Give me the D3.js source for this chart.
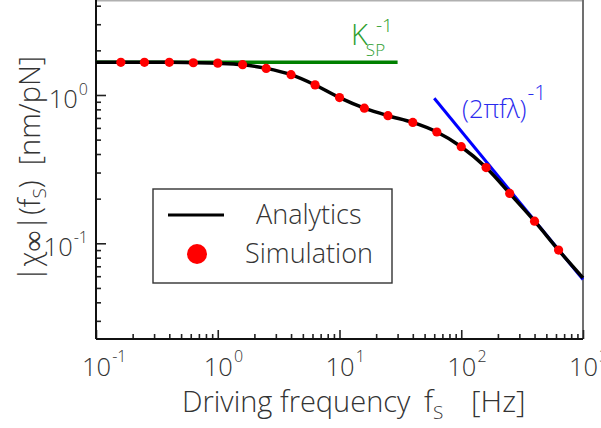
<!DOCTYPE html>
<head>
    <meta charset='utf-8'>
    <style>
        body {
            margin: 0;
            background: #fff;
        }
        svg text {
            font-family: 'Open Sans', 'Lato', sans-serif;
            font-weight: 300;
            fill: #333;
        }
    </style>
</head>

<body>
<div id='vis'></div>
<script src='https://cdn.jsdelivr.net/npm/d3@7'></script>
<script>
  // simulation points (driving frequency in Hz, |chi| in nm/pN)
  const simFreq = [0.16, 0.25, 0.4, 0.63, 1.0, 1.6, 2.5, 4.0, 6.3, 10, 16, 25, 40, 63, 100, 160, 250, 400, 630]
  const simChi = [1.66, 1.66, 1.66, 1.65, 1.64, 1.60, 1.51, 1.37, 1.17, 0.96, 0.815, 0.725, 0.653, 0.563, 0.448, 0.324, 0.217, 0.141, 0.090]

  // analytic curve
  const anaFreq = [0.1, 0.16, 0.25, 0.4, 0.63, 1.0, 1.6, 2.5, 4.0, 6.3, 10, 16, 25, 40, 63, 100, 160, 250, 400, 630, 1000]
  const anaChi = [1.662, 1.662, 1.661, 1.66, 1.652, 1.637, 1.60, 1.512, 1.37, 1.168, 0.96, 0.815, 0.725, 0.653, 0.563, 0.448, 0.324, 0.217, 0.141, 0.090, 0.0584]

  // asymptotes
  const kspFreq = [0.1, 30]
  const kspChi = [1.66, 1.66]
  const dragFreq = [60, 1000]
  const dragChi = [0.95, 0.057]

  const xMajor = [0.1, 1, 10, 100, 1000]
  const xExp = ['-1', '0', '1', '2', '3']
  const yMajor = [0.1, 1]
  const yExp = ['-1', '0']

  const W = 601, H = 428
  const plot = {left: 96, right: 583, top: 0, bottom: 339}

  const x = d3.scaleLog().domain([0.1, 1000]).range([plot.left, plot.right])
  const y = d3.scaleLog().domain([0.02263, 4.37]).range([plot.bottom, plot.top])

  const svg = d3.select('#vis')
    .append('svg')
    .attr('width', W)
    .attr('height', H)

  // minor ticks: 2..9 of each decade inside domain
  const minorOf = (s) => {
    const [a, b] = s.domain()
    const out = []
    for (let e = Math.floor(Math.log10(a)); e <= Math.ceil(Math.log10(b)); e++) {
      for (let m = 2; m <= 9; m++) {
        const v = m * Math.pow(10, e)
        if (v >= a && v <= b) out.push(v)
      }
    }
    return out
  }

  // frame: top and right in gray
  svg.append('line')
    .attr('x1', plot.left).attr('x2', plot.right)
    .attr('y1', 0.5).attr('y2', 0.5)
    .attr('stroke', '#b0b0b0').attr('stroke-width', 2)
  svg.append('line')
    .attr('x1', plot.right).attr('x2', plot.right)
    .attr('y1', 0).attr('y2', plot.bottom)
    .attr('stroke', '#707070').attr('stroke-width', 2)

  // axes with inward ticks
  const axisStyle = g => {
    g.select('.domain').remove()
    g.selectAll('line').attr('stroke', '#222').attr('stroke-width', 1.6)
  }
  svg.append('g')
    .attr('transform', `translate(0,${plot.bottom})`)
    .call(d3.axisBottom(x).tickValues(minorOf(x)).tickSize(-5).tickFormat(''))
    .call(axisStyle)
  svg.append('g')
    .attr('transform', `translate(0,${plot.bottom})`)
    .call(d3.axisBottom(x).tickValues(xMajor).tickSize(-9).tickFormat(''))
    .call(axisStyle)
  svg.append('g')
    .attr('transform', `translate(${plot.left},0)`)
    .call(d3.axisLeft(y).tickValues(minorOf(y)).tickSize(-5).tickFormat(''))
    .call(axisStyle)
  svg.append('g')
    .attr('transform', `translate(${plot.left},0)`)
    .call(d3.axisLeft(y).tickValues(yMajor).tickSize(-10).tickFormat(''))
    .call(axisStyle)

  svg.append('line')
    .attr('x1', plot.left).attr('x2', plot.right)
    .attr('y1', plot.bottom).attr('y2', plot.bottom)
    .attr('stroke', '#111').attr('stroke-width', 2)
  svg.append('line')
    .attr('x1', plot.left).attr('x2', plot.left)
    .attr('y1', 0).attr('y2', plot.bottom)
    .attr('stroke', '#111').attr('stroke-width', 2)

  // tick labels
  xMajor.forEach((v, i) => {
    const t = svg.append('text')
      .attr('x', x(v) - 14)
      .attr('y', 376)
      .style('font-size', '25.5px')
    t.append('tspan').text('10')
    t.append('tspan').attr('dy', -14).attr('dx', 1).style('font-size', '16px').text(xExp[i])
  })
  yMajor.forEach((v, i) => {
    const t = svg.append('text')
      .attr('x', 88)
      .attr('y', y(v) + 13)
      .attr('text-anchor', 'end')
      .style('font-size', '25.5px')
    t.append('tspan').text('10')
    t.append('tspan').attr('dy', -13).attr('dx', 1).style('font-size', '16px').text(yExp[i])
  })

  // axis titles
  const xt = svg.append('text')
    .attr('y', 412)
    .style('font-size', '29px')
  xt.append('tspan').attr('x', 182).text('Driving frequency')
  xt.append('tspan').attr('x', 424).style('font-size', '30px').text('f')
  xt.append('tspan').attr('dy', 7).style('font-size', '19px').text('S')
  xt.append('tspan').attr('x', 471).attr('dy', -7).style('font-size', '30px').text('[Hz]')

  const yt = svg.append('text')
    .attr('transform', 'translate(40,169) rotate(-90)')
    .attr('text-anchor', 'middle')
    .style('font-size', '29px')
    .attr('xml:space', 'preserve')
  yt.append('tspan').text('|\u03c7')
  yt.append('tspan').attr('dy', 3).style('font-family', 'DejaVu Sans').style('font-weight', 200).style('font-size', '29px').text('\u221e')
  yt.append('tspan').attr('dy', -3).text('|(f')
  yt.append('tspan').attr('dy', 6).style('font-size', '19px').text('S')
  yt.append('tspan').attr('dy', -6).text(')  [nm/pN]')

  const line = d3.line()
    .x(d => x(d[0]))
    .y(d => y(d[1]))

  // K_SP^-1 asymptote
  svg.append('path')
    .datum(d3.zip(kspFreq, kspChi))
    .attr('d', line)
    .attr('fill', 'none')
    .attr('stroke', '#008000')
    .attr('stroke-width', 3.5)

  // (2 pi f lambda)^-1 asymptote
  svg.append('path')
    .datum(d3.zip(dragFreq, dragChi))
    .attr('d', line)
    .attr('fill', 'none')
    .attr('stroke', '#0000ff')
    .attr('stroke-width', 3)

  // analytics
  svg.append('path')
    .datum(d3.zip(anaFreq, anaChi))
    .attr('d', line.curve(d3.curveMonotoneX))
    .attr('fill', 'none')
    .attr('stroke', '#000')
    .attr('stroke-width', 3.5)

  // simulation
  svg.append('g')
    .selectAll('circle')
    .data(d3.zip(simFreq, simChi))
    .enter()
    .append('circle')
    .attr('cx', d => x(d[0]))
    .attr('cy', d => y(d[1]))
    .attr('r', 4.6)
    .attr('fill', '#ff0000')

  // annotations
  const kt = svg.append('text')
    .attr('x', 351)
    .attr('y', 45)
    .style('font-size', '29px')
    .style('fill', '#2e9e2e')
  kt.append('tspan').text('K')
  kt.append('tspan').attr('dy', 11).attr('dx', -2).style('font-size', '17px').text('SP')
  kt.append('tspan').attr('x', 376).attr('y', 32).style('font-size', '19px').text('-1')

  const bt = svg.append('text')
    .attr('x', 462)
    .attr('y', 118)
    .style('font-size', '25.5px')
    .style('fill', '#2a2aee')
  bt.append('tspan').text('(2\u03c0f\u03bb)')
  bt.append('tspan').attr('dy', -18).attr('dx', 1).style('font-size', '21px').text('-1')

  // legend
  const lg = svg.append('g')
  lg.append('rect')
    .attr('x', 153).attr('y', 189)
    .attr('width', 239).attr('height', 94)
    .attr('fill', '#fff')
    .attr('stroke', '#333')
    .attr('stroke-width', 1.4)
  lg.append('line')
    .attr('x1', 168).attr('x2', 224)
    .attr('y1', 215).attr('y2', 215)
    .attr('stroke', '#000').attr('stroke-width', 3)
  lg.append('circle')
    .attr('cx', 197).attr('cy', 254).attr('r', 10)
    .attr('fill', '#ff0000')
  lg.append('text')
    .attr('x', 256).attr('y', 224)
    .style('font-size', '27px')
    .text('Analytics')
  lg.append('text')
    .attr('x', 245).attr('y', 263)
    .style('font-size', '27px')
    .text('Simulation')
</script>
</body>
